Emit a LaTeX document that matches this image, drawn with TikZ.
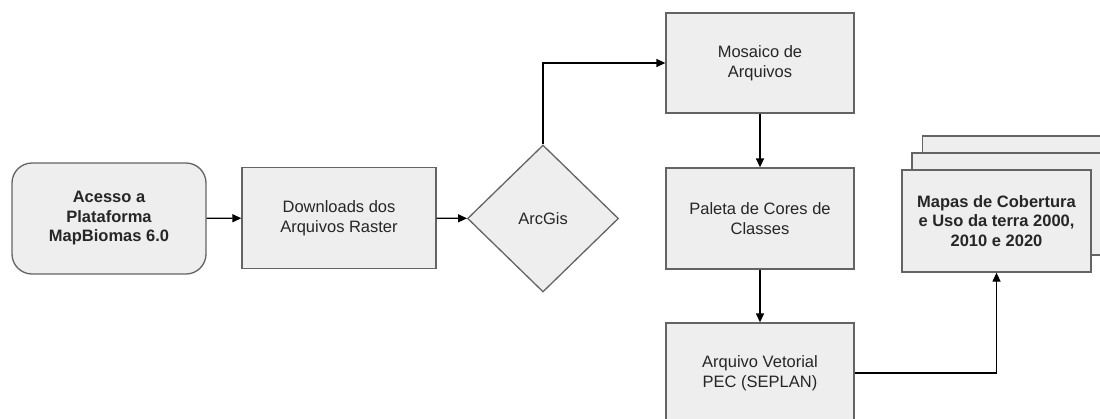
\documentclass[tikz,border=0pt]{standalone}
\usepackage{fontspec}
\setmainfont{Liberation Sans}
\usetikzlibrary{shapes.geometric,arrows.meta}
\definecolor{boxfill}{RGB}{238,238,238}
\definecolor{boxline}{RGB}{100,100,100}
\tikzset{
  base/.style={draw=boxline, fill=boxfill, line width=1.3pt, inner sep=0pt, align=center,
    font=\fontsize{16.5}{20}\selectfont, text=black!85},
  box/.style={base, rectangle, minimum width=#1, minimum height=101},
  roundbox/.style={base, rectangle, rounded corners=20, minimum width=194, minimum height=111,
    font=\fontsize{16.5}{19.5}\selectfont\bfseries},
  decision/.style={base, diamond, minimum width=151, minimum height=147, aspect=1.03},
  conn/.style={draw=black, line width=1.3pt, -{Triangle[length=9pt,width=8pt]}},
}
\begin{document}
\begin{tikzpicture}[x=1pt,y=-1pt]
\useasboundingbox (0,0) rectangle (1100,418);
\clip (0,0) rectangle (1100,418);
\fill[white] (0,0) rectangle (1100,418);
\node[roundbox] (acc) at (109,218.5) {Acesso a\\Plataforma\\MapBiomas 6.0};
\node[box=194] (dl) at (339,218) {Downloads dos\\Arquivos Raster};
\node[decision] (arc) at (543,218.5) {ArcGis};
\node[box=188, minimum height=100] (mos) at (760,63) {Mosaico de\\Arquivos};
\node[box=188] (pal) at (760,218.5) {Paleta de Cores de\\Classes};
\node[box=188, minimum height=100] (arq) at (760,373) {Arquivo Vetorial\\PEC (SEPLAN)};
\node[box=189, minimum height=102] (map3) at (1017,187) {};
\node[box=189, minimum height=102] (map2) at (1006.5,204) {};
\node[box=189, minimum height=102, font=\fontsize{16.5}{19.5}\selectfont\bfseries] (map) at (996.5,221) {Mapas de Cobertura\\e Uso da terra 2000,\\2010 e 2020};
\draw[conn] (acc) -- (dl);
\draw[conn] (dl) -- (arc);
\draw[conn] (arc.north) |- (mos.west);
\draw[conn] (mos) -- (pal);
\draw[conn] (pal) -- (arq);
\draw[conn] (arq.east) -| (map.south);
\end{tikzpicture}
\end{document}
